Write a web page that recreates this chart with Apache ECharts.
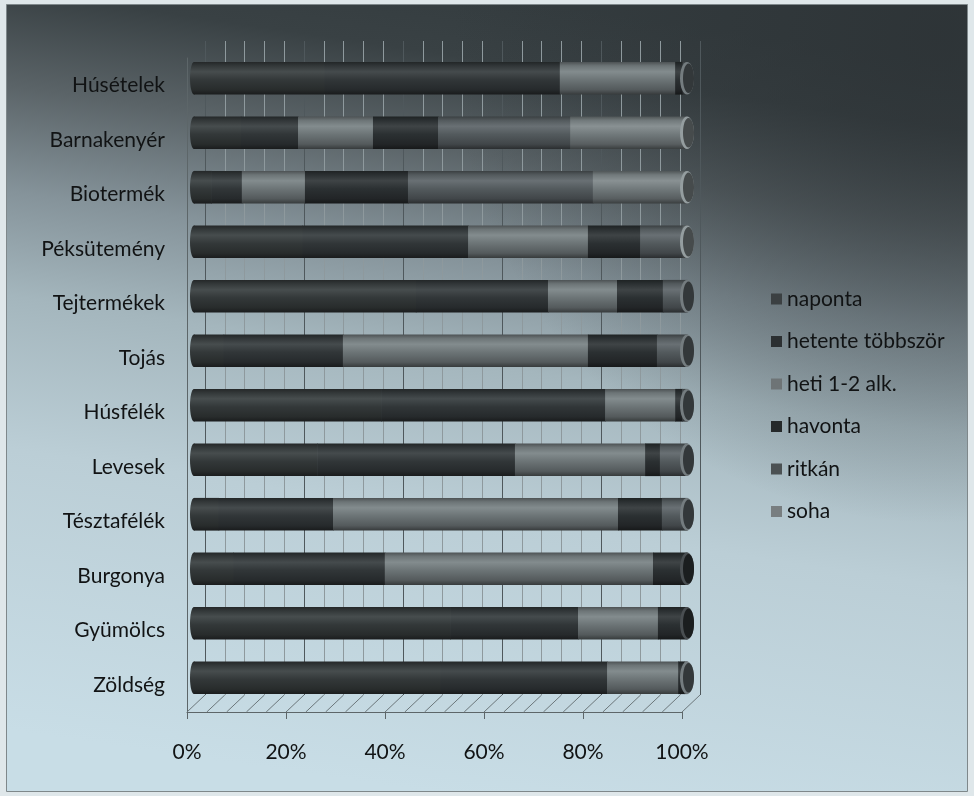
<!DOCTYPE html>
<html>
<head>
<meta charset="utf-8">
<script src="https://cdn.jsdelivr.net/npm/echarts@6/dist/echarts.min.js"></script>
<style>
  html, body { margin: 0; padding: 0; background: #dfe6e9; }
  #chart { width: 974px; height: 796px; }
</style>
</head>
<body>
<div id="chart"></div>
<script>
// Food categories, listed top to bottom
const categories = ['Húsételek', 'Barnakenyér', 'Biotermék', 'Péksütemény', 'Tejtermékek', 'Tojás',
  'Húsfélék', 'Levesek', 'Tésztafélék', 'Burgonya', 'Gyümölcs', 'Zöldség'];

// Frequency groups (legend order)
const seriesNames = ['naponta', 'hetente többször', 'heti 1-2 alk.', 'havonta', 'ritkán', 'soha'];

// Share of answers in each frequency group, percent per category
const naponta         = [26.5,  9.5,  3.5, 22.0, 45.0,  6.0, 38.0, 25.0,  5.0,  8.0, 52.0, 50.0];
const hetenteTobbszor = [47.7, 11.6,  6.2, 33.6, 26.8, 24.2, 45.4, 40.1, 23.2, 30.7, 25.9, 33.8];
const heti12          = [23.4, 15.2, 12.8, 24.3, 14.0, 49.7, 14.2, 26.4, 57.8, 54.4, 16.2, 14.4];
const havonta         = [ 1.5, 13.2, 20.9, 10.6,  9.3, 14.0,  1.4,  3.0,  8.9,  6.9,  5.9,  1.2];
const ritkan          = [ 0.9, 26.8, 37.5,  8.6,  4.9,  6.1,  1.0,  5.5,  5.1,  0.0,  0.0,  0.6];
const soha            = [ 0.0, 23.7, 19.1,  0.9,  0.0,  0.0,  0.0,  0.0,  0.0,  0.0,  0.0,  0.0];

// Percent axis tick labels
const tickLabels = ['0%', '20%', '40%', '60%', '80%', '100%'];

const seriesValues = [naponta, hetenteTobbszor, heti12, havonta, ritkan, soha];
const palette = ['#333839', '#313638', '#6c7476', '#2b3032', '#535a5d', '#71797b'];
const legendColors = ['#3b4042', '#2c3032', '#6e7476', '#25292a', '#4b5153', '#787e80'];

// Stack the segments of every row
const firstIdx = categories.map((_, i) => seriesValues.findIndex(a => a[i] > 0));
const lastIdx = categories.map((_, i) => {
  let k = -1;
  seriesValues.forEach((a, s) => { if (a[i] > 0) k = s; });
  return k;
});
const running = categories.map(() => 0);
const stacked = seriesValues.map((arr, s) => arr.map((v, i) => {
  const st = running[i];
  running[i] += v;
  return [i, st, st + v, lastIdx[i] === s ? 1 : 0, firstIdx[i] === s ? 1 : 0];
}));

function shade(hex, f) {
  const n = parseInt(hex.slice(1), 16);
  const ch = [(n >> 16) & 255, (n >> 8) & 255, n & 255].map(v => {
    const x = f >= 1 ? v + (255 - v) * (f - 1) * 0.35 + v * (f - 1) * 0.6 : v * f;
    return Math.max(0, Math.min(255, Math.round(x)));
  });
  return 'rgb(' + ch.join(',') + ')';
}

function cylinderFill(c) {
  return new echarts.graphic.LinearGradient(0, 0, 0, 1, [
    { offset: 0, color: shade(c, 0.7) },
    { offset: 0.12, color: shade(c, 1.0) },
    { offset: 0.3, color: shade(c, 1.2) },
    { offset: 0.55, color: shade(c, 1.0) },
    { offset: 0.85, color: shade(c, 0.78) },
    { offset: 1, color: shade(c, 0.5) }
  ]);
}

function makeRender(s) {
  const c = palette[s];
  return function (params, api) {
    const cat = api.value(0);
    const start = api.value(1);
    const end = api.value(2);
    if (!(end > start)) return;
    const p0 = api.coord([start, cat]);
    const p1 = api.coord([end, cat]);
    const h = api.size([0, 1])[1] * 0.6;
    const top = p0[1] - h / 2;
    const children = [];
    if (api.value(4)) {
      children.push({
        type: 'ellipse',
        shape: { cx: p0[0], cy: p0[1], rx: 4, ry: h / 2 },
        style: { fill: cylinderFill(c) }
      });
    }
    children.push({
      type: 'rect',
      shape: { x: p0[0], y: top, width: p1[0] - p0[0] + 0.6, height: h },
      style: { fill: cylinderFill(c) }
    });
    if (api.value(3)) {
      children.push({
        type: 'ellipse',
        shape: { cx: p1[0], cy: p1[1], rx: 7, ry: h / 2 },
        style: { fill: shade(c, 1.3) }
      });
      children.push({
        type: 'ellipse',
        shape: { cx: p1[0] + 1.5, cy: p1[1], rx: 5.5, ry: h / 2 - 1.5 },
        style: { fill: shade(c, 0.62) }
      });
    }
    return { type: 'group', children };
  };
}

// Floor hatching: one slanted stroke per minor grid step
const floorTicks = [];
for (let v = 0; v <= 100; v += 4) floorTicks.push(v);

const font = 'Lato';
const textColor = '#111314';

const myChart = echarts.init(document.getElementById('chart'), null, { renderer: 'canvas' });

const option = {
  animation: false,
  graphic: [
    { type: 'rect', z: -100, silent: true,
      shape: { x: 0, y: 0, width: 974, height: 796 },
      style: { fill: '#dfe7ea' } },
    { type: 'rect', z: -99, silent: true,
      shape: { x: 6.5, y: 4.5, width: 961, height: 787 },
      style: {
        fill: new echarts.graphic.LinearGradient(0.56, 0, 0.44, 1, [
          { offset: 0, color: '#353d40' },
          { offset: 0.08, color: '#394144' },
          { offset: 0.2, color: '#5b6468' },
          { offset: 0.33, color: '#85939a' },
          { offset: 0.46, color: '#a4b6bd' },
          { offset: 0.65, color: '#bbced6' },
          { offset: 1, color: '#c8dde6' }
        ]),
        stroke: '#7f888b', lineWidth: 1
      } },
    // darker shading towards the upper right corner
    { type: 'rect', z: -98, silent: true,
      shape: { x: 7, y: 5, width: 960, height: 786 },
      style: {
        fill: new echarts.graphic.RadialGradient(0.97, 0.04, 0.62, [
          { offset: 0, color: 'rgba(44,50,53,0.8)' },
          { offset: 0.5, color: 'rgba(44,50,53,0.4)' },
          { offset: 1, color: 'rgba(44,50,53,0)' }
        ])
      } }
  ],
  legend: {
    orient: 'vertical',
    left: 766,
    top: 282,
    itemWidth: 11,
    itemHeight: 11,
    itemGap: 18.5,
    icon: 'rect',
    selectedMode: false,
    textStyle: { fontFamily: font, fontSize: 21, color: textColor, lineHeight: 24 },
    data: seriesNames.map((n, i) => ({ name: n, itemStyle: { color: legendColors[i] } }))
  },
  grid: [
    { left: 205, top: 41, width: 495, height: 654 },     // back wall
    { left: 194, top: 51, width: 493, height: 654 },     // bars
    { left: 187, top: 58, width: 495, height: 654 }      // front edge with labels
  ],
  xAxis: [
    {
      gridIndex: 0, type: 'value', min: 0, max: 100, interval: 20,
      axisLine: { show: false }, axisTick: { show: false }, axisLabel: { show: false },
      splitLine: { show: true, lineStyle: { color: '#4f585c', width: 1 } },
      minorTick: { show: false, splitNumber: 5 },
      minorSplitLine: { show: true, lineStyle: { color: '#8e999d', width: 1 } }
    },
    {
      gridIndex: 1, type: 'value', min: 0, max: 100, show: false
    },
    {
      gridIndex: 2, type: 'value', min: 0, max: 100, interval: 20,
      axisLine: { show: true, lineStyle: { color: '#5d6669', width: 1 } },
      axisTick: { show: true, length: 7, lineStyle: { color: '#5d6669' } },
      splitLine: { show: false },
      axisLabel: {
        margin: 30, fontFamily: font, fontSize: 21, color: textColor,
        formatter: v => tickLabels[Math.round(v / 20)]
      }
    }
  ],
  yAxis: [
    { gridIndex: 0, type: 'category', data: categories, inverse: true, show: false },
    { gridIndex: 1, type: 'category', data: categories, inverse: true, show: false },
    {
      gridIndex: 2, type: 'category', data: categories, inverse: true,
      axisLine: { show: true, lineStyle: { color: '#5d6669', width: 1 } },
      axisTick: { show: false },
      splitLine: { show: false },
      axisLabel: { margin: 22, fontFamily: font, fontSize: 21, color: textColor }
    }
  ],
  series: [
    {
      type: 'custom', name: 'floor', xAxisIndex: 2, yAxisIndex: 2, z: 1, silent: true,
      data: floorTicks.map(v => [v]),
      encode: { x: 0 },
      renderItem: (params, api) => {
        const cs = params.coordSys;
        const x = api.coord([api.value(0), 0])[0];
        const y = cs.y + cs.height;
        return {
          type: 'line',
          shape: { x1: x, y1: y, x2: x + 18, y2: y - 17 },
          style: { stroke: '#6c777b', lineWidth: 1 }
        };
      }
    }
  ].concat(seriesNames.map((name, s) => ({
    type: 'custom',
    name,
    xAxisIndex: 1,
    yAxisIndex: 1,
    z: 3,
    itemStyle: { color: legendColors[s] },
    encode: { x: [1, 2], y: 0 },
    data: stacked[s],
    renderItem: makeRender(s)
  })))
};

myChart.setOption(option);
</script>
</body>
</html>
